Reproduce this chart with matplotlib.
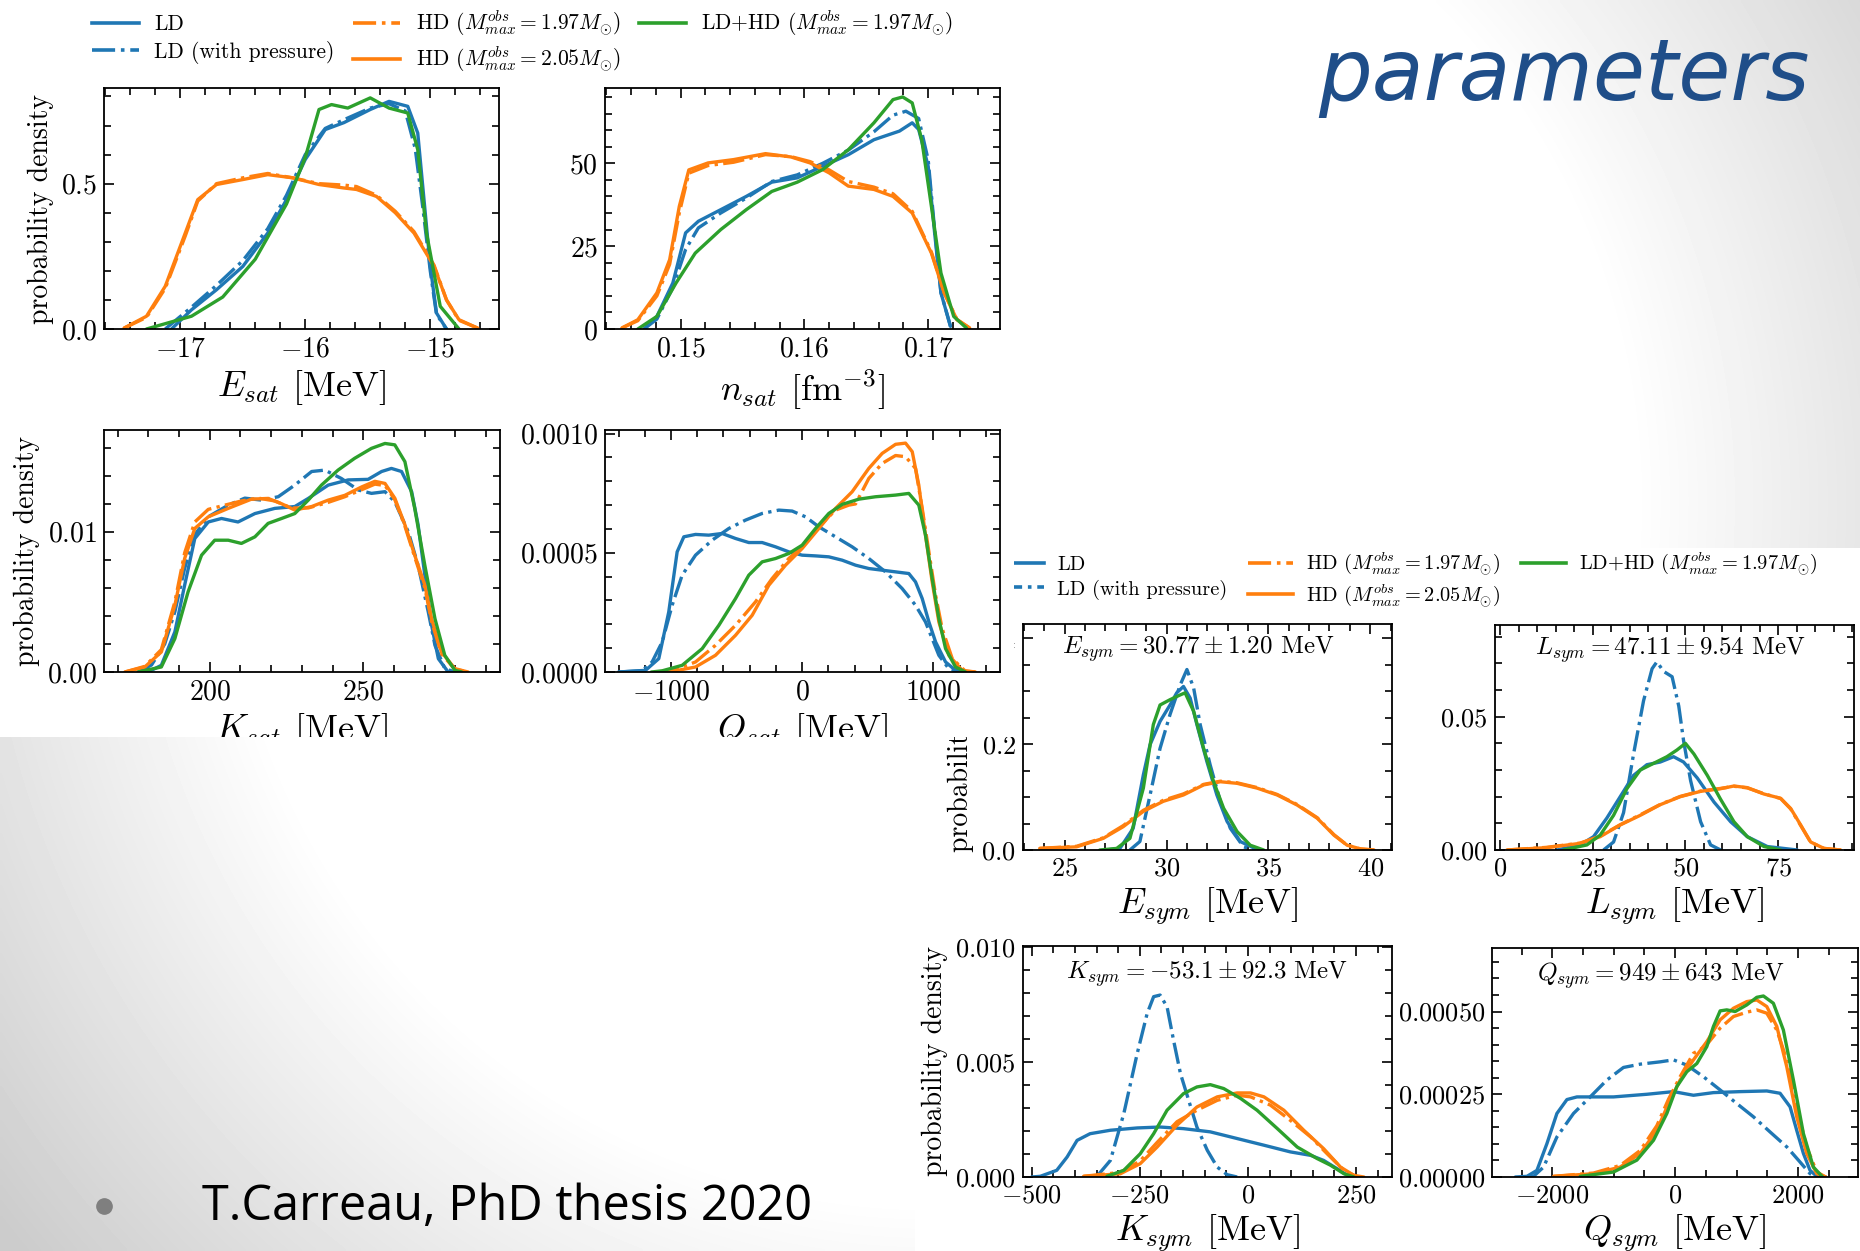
import numpy as np
import matplotlib.pyplot as plt
from matplotlib.ticker import MultipleLocator, AutoMinorLocator
from matplotlib.patches import Rectangle
from matplotlib.lines import Line2D
from matplotlib.transforms import Bbox, TransformedBbox

plt.rcParams['font.family'] = 'cmr10'
plt.rcParams['mathtext.fontset'] = 'cm'
plt.rcParams['axes.formatter.use_mathtext'] = True
plt.rcParams['axes.unicode_minus'] = True

# ---------------- saturation parameters ----------------
# E_sat [MeV] vs probability density
esat_ld_x = [-17.07, -16.91, -16.71, -16.5, -16.3, -16.15, -16.0, -15.84, -15.69, -15.48, -15.33, -15.18, -15.10, -15.05, -15.0, -14.95, -14.87]
esat_ld_y = [0.0, 0.066, 0.135, 0.215, 0.33, 0.445, 0.583, 0.686, 0.71, 0.755, 0.783, 0.766, 0.674, 0.445, 0.216, 0.055, 0.0]
esat_ldp_x = [-17.12, -16.91, -16.71, -16.5, -16.3, -16.15, -16.0, -15.84, -15.69, -15.48, -15.33, -15.2, -15.12, -15.06, -15.0, -14.95, -14.87]
esat_ldp_y = [0.0, 0.075, 0.15, 0.235, 0.345, 0.46, 0.6, 0.69, 0.72, 0.76, 0.775, 0.75, 0.62, 0.42, 0.2, 0.05, 0.0]
esat_hd197_x = [-17.45, -17.27, -17.12, -16.96, -16.86, -16.71, -16.5, -16.3, -16.1, -15.89, -15.69, -15.59, -15.43, -15.28, -15.13, -14.97, -14.87, -14.77, -14.62]
esat_hd197_y = [0.003, 0.04, 0.14, 0.32, 0.44, 0.50, 0.52, 0.535, 0.52, 0.50, 0.495, 0.49, 0.46, 0.405, 0.335, 0.22, 0.10, 0.03, 0.003]
esat_hd205_x = [-17.45, -17.27, -17.12, -16.96, -16.86, -16.71, -16.5, -16.3, -16.1, -15.89, -15.69, -15.59, -15.43, -15.28, -15.13, -14.97, -14.87, -14.77, -14.62]
esat_hd205_y = [0.003, 0.044, 0.147, 0.33, 0.445, 0.497, 0.514, 0.531, 0.52, 0.497, 0.485, 0.48, 0.456, 0.40, 0.33, 0.216, 0.10, 0.032, 0.003]
esat_ldhd_x = [-17.27, -16.91, -16.66, -16.4, -16.15, -16.0, -15.89, -15.79, -15.66, -15.48, -15.33, -15.18, -15.10, -15.03, -14.92, -14.77]
esat_ldhd_y = [0.0, 0.044, 0.11, 0.24, 0.43, 0.59, 0.755, 0.772, 0.76, 0.795, 0.76, 0.743, 0.617, 0.33, 0.078, 0.0]

# n_sat [fm^-3]
nsat_ld_x = [0.14706, 0.14809, 0.14938, 0.15041, 0.15144, 0.15325, 0.15531, 0.15737, 0.15943, 0.16149, 0.16356, 0.16562, 0.16768, 0.16871, 0.16923, 0.17, 0.17052, 0.17103, 0.1718]
nsat_ld_y = [0.0, 3.8, 13.9, 29.0, 32.5, 36.0, 40.0, 44.3, 45.6, 49.1, 52.6, 57.1, 59.7, 62.2, 60.2, 49.1, 29.0, 10.9, 0.8]
nsat_ldp_x = [0.14706, 0.14809, 0.14938, 0.15041, 0.15144, 0.15325, 0.15531, 0.15737, 0.15943, 0.16149, 0.16356, 0.16562, 0.16716, 0.1682, 0.16923, 0.17, 0.17052, 0.17103, 0.1718]
nsat_ldp_y = [0.0, 3.0, 12.5, 24.0, 30.5, 35.0, 39.5, 44.5, 46.5, 50.0, 54.0, 59.5, 64.5, 65.7, 63.5, 51.0, 30.0, 11.0, 0.8]
nsat_hd197_x = [0.14526, 0.14655, 0.14809, 0.14912, 0.1499, 0.15067, 0.15222, 0.15428, 0.15686, 0.15892, 0.16046, 0.162, 0.16355, 0.16562, 0.16716, 0.16871, 0.17026, 0.17129, 0.17232, 0.17335]
nsat_hd197_y = [0.3, 2.5, 10.0, 19.5, 35.0, 47.0, 49.3, 50.3, 52.6, 52.0, 50.5, 48.0, 44.5, 42.8, 40.8, 35.5, 23.2, 11.0, 2.9, 0.3]
nsat_hd205_x = [0.14526, 0.14655, 0.14809, 0.14912, 0.1499, 0.15067, 0.15222, 0.15428, 0.15686, 0.15892, 0.16046, 0.162, 0.16355, 0.16562, 0.16716, 0.16871, 0.17026, 0.17129, 0.17232, 0.17335]
nsat_hd205_y = [0.3, 2.8, 10.9, 20.9, 37.0, 48.0, 50.1, 51.1, 52.9, 51.9, 50.1, 47.1, 43.1, 42.1, 40.0, 35.0, 22.9, 10.9, 2.8, 0.3]
nsat_ldhd_x = [0.14655, 0.14809, 0.14964, 0.15119, 0.15325, 0.15531, 0.15737, 0.15943, 0.16149, 0.16356, 0.16562, 0.16716, 0.16794, 0.16871, 0.16948, 0.17026, 0.17103, 0.17206, 0.17309]
nsat_ldhd_y = [0.0, 3.8, 13.9, 22.9, 30.0, 36.0, 41.5, 44.3, 48.1, 54.1, 62.2, 69.2, 70.0, 68.2, 57.1, 37.0, 16.9, 3.8, 0.3]

# K_sat [MeV], densities in units of 1e-3
ksat_scale = 1e-3
ksat_ld_x = [179.9, 184.2, 188.6, 191.8, 195.1, 199.5, 203.8, 209.2, 214.7, 221.2, 227.7, 232.1, 238.6, 245.1, 251.6, 256.0, 259.2, 262.5, 265.8, 267.9, 270.1, 272.3, 274.5, 277.7]
ksat_ld_y = [0.0, 0.48, 2.86, 6.2, 9.52, 10.7, 10.95, 10.7, 11.3, 11.67, 11.8, 12.38, 13.33, 13.7, 13.74, 14.3, 14.52, 14.3, 12.86, 10.5, 6.9, 3.33, 0.95, 0.0]
ksat_ldp_x = [176.6, 181.0, 185.3, 188.6, 191.8, 195.1, 199.5, 206.0, 211.4, 216.8, 222.3, 227.7, 233.2, 237.5, 242.9, 248.4, 252.7, 257.1, 260.3, 264.7, 267.9, 271.2, 273.4, 276.6, 279.9]
ksat_ldp_y = [0.0, 0.5, 2.0, 4.3, 7.4, 9.8, 11.07, 11.9, 12.4, 12.26, 12.5, 13.33, 14.3, 14.4, 13.8, 12.98, 12.74, 12.86, 12.14, 10.0, 7.6, 4.3, 1.9, 0.24, 0.0]
ksat_hd197_x = [172.3, 178.8, 184.2, 188.6, 191.8, 195.1, 199.5, 204.9, 210.3, 215.8, 221.2, 226.6, 232.1, 238.6, 244.0, 249.5, 253.8, 257.1, 260.3, 263.6, 266.8, 270.1, 272.3, 275.5, 279.9, 284.2]
ksat_hd197_y = [0.0, 0.4, 1.6, 5.0, 8.5, 10.7, 11.6, 11.9, 12.2, 12.4, 12.2, 11.7, 11.7, 12.1, 12.5, 13.0, 13.4, 13.3, 12.3, 10.4, 8.2, 6.0, 3.6, 1.3, 0.2, 0.0]
ksat_hd205_x = [172.3, 178.8, 184.2, 188.6, 191.8, 195.1, 199.5, 206.0, 213.6, 219.0, 223.4, 227.7, 233.2, 238.6, 244.0, 249.5, 253.8, 257.1, 260.3, 263.6, 266.8, 270.1, 272.3, 275.5, 279.9, 284.2]
ksat_hd205_y = [0.0, 0.36, 1.43, 4.76, 8.1, 10.24, 11.07, 11.67, 12.33, 12.38, 12.0, 11.55, 11.8, 12.26, 12.6, 13.2, 13.6, 13.45, 12.4, 10.5, 8.33, 6.2, 3.8, 1.43, 0.24, 0.0]
ksat_ldhd_x = [176.6, 184.2, 188.6, 192.9, 197.3, 201.6, 206.0, 210.3, 214.7, 219.0, 223.4, 227.7, 232.1, 236.4, 241.8, 247.2, 252.7, 257.1, 260.3, 263.6, 266.8, 270.1, 273.4, 276.6, 279.9, 282.1]
ksat_ldhd_y = [0.0, 0.36, 2.38, 5.71, 8.33, 9.4, 9.4, 9.17, 9.64, 10.6, 10.95, 11.3, 12.26, 13.33, 14.4, 15.24, 15.95, 16.3, 16.2, 15.0, 11.67, 7.6, 3.8, 1.19, 0.12, 0.0]

# Q_sat [MeV], densities in units of 1e-4
qsat_scale = 1e-4
qsat_ld_x = [-1400, -1194, -1093, -1017, -953, -902, -813, -712, -610, -508, -407, -305, -203, -102, 0, 102, 203, 305, 407, 508, 610, 712, 813, 864, 915, 966, 1017, 1093, 1169, 1250]
qsat_ld_y = [0.0, 0.07, 0.56, 2.52, 5.04, 5.67, 5.77, 5.74, 5.81, 5.6, 5.43, 5.43, 5.25, 5.04, 4.9, 4.87, 4.83, 4.69, 4.48, 4.34, 4.27, 4.2, 4.13, 3.78, 3.08, 2.1, 1.26, 0.42, 0.07, 0.0]
qsat_ldp_x = [-1400, -1220, -1144, -1067, -991, -915, -813, -686, -559, -432, -305, -178, -76, 25, 127, 254, 381, 508, 635, 762, 864, 940, 991, 1042, 1118, 1194]
qsat_ldp_y = [0.0, 0.05, 0.42, 1.26, 2.8, 4.06, 4.9, 5.53, 6.02, 6.37, 6.65, 6.79, 6.75, 6.51, 6.09, 5.67, 5.25, 4.76, 4.2, 3.5, 2.8, 2.1, 1.4, 0.7, 0.14, 0.0]
qsat_hd197_x = [-1100, -966, -813, -661, -508, -356, -229, -102, 0, 127, 254, 356, 407, 508, 610, 712, 788, 864, 915, 966, 1017, 1067, 1144, 1245, 1320]
qsat_hd197_y = [0.0, 0.1, 0.42, 1.12, 1.96, 2.94, 3.92, 4.76, 5.25, 6.09, 6.79, 7.0, 7.05, 8.12, 8.75, 9.08, 9.03, 8.54, 6.86, 5.04, 3.22, 1.82, 0.56, 0.03, 0.0]
qsat_hd205_x = [-1100, -966, -813, -661, -508, -381, -254, -127, 0, 127, 254, 381, 508, 610, 712, 788, 839, 889, 940, 991, 1042, 1118, 1220, 1320]
qsat_hd205_y = [0.0, 0.05, 0.21, 0.7, 1.54, 2.38, 3.64, 4.48, 5.18, 6.02, 6.86, 7.56, 8.54, 9.17, 9.55, 9.6, 9.24, 7.84, 5.74, 3.78, 2.1, 0.7, 0.07, 0.0]
qsat_ldhd_x = [-1150, -1067, -915, -762, -635, -508, -407, -305, -203, -102, 0, 102, 203, 305, 432, 559, 712, 813, 889, 940, 991, 1042, 1093, 1169, 1245]
qsat_ldhd_y = [0.0, 0.05, 0.28, 0.98, 1.96, 3.08, 4.06, 4.62, 4.76, 4.97, 5.32, 6.02, 6.65, 7.03, 7.25, 7.35, 7.42, 7.49, 7.0, 5.74, 3.92, 2.24, 0.98, 0.21, 0.0]

# ---------------- symmetry parameters ----------------
# E_sym [MeV]
esym_ld_x = [27.0, 27.71, 28.36, 28.86, 29.19, 29.68, 30.17, 30.5, 30.83, 31.16, 31.49, 31.98, 32.47, 32.97, 33.62, 34.44]
esym_ld_y = [0.0, 0.003, 0.041, 0.142, 0.199, 0.243, 0.274, 0.297, 0.309, 0.287, 0.237, 0.167, 0.104, 0.054, 0.016, 0.001]
esym_ldp_x = [28.2, 28.69, 29.19, 29.68, 30.17, 30.67, 31.0, 31.33, 31.65, 32.14, 32.64, 33.13, 33.78, 34.3]
esym_ldp_y = [0.0, 0.016, 0.104, 0.192, 0.256, 0.312, 0.341, 0.306, 0.237, 0.161, 0.092, 0.041, 0.006, 0.0]
esym_hd197_x = [23.77, 25.58, 26.89, 27.87, 28.86, 29.84, 30.83, 31.82, 32.64, 33.46, 34.44, 35.43, 36.41, 37.4, 38.22, 38.87, 39.53, 40.19]
esym_hd197_y = [0.003, 0.007, 0.023, 0.046, 0.075, 0.094, 0.106, 0.124, 0.130, 0.127, 0.118, 0.105, 0.086, 0.061, 0.029, 0.009, 0.002, 0.0]
esym_hd205_x = [23.77, 25.58, 26.89, 27.87, 28.86, 29.84, 30.83, 31.82, 32.64, 33.46, 34.44, 35.43, 36.41, 37.4, 38.22, 38.87, 39.53, 40.19]
esym_hd205_y = [0.003, 0.006, 0.022, 0.044, 0.073, 0.092, 0.104, 0.123, 0.129, 0.126, 0.117, 0.104, 0.085, 0.06, 0.028, 0.009, 0.002, 0.0]
esym_ldhd_x = [26.72, 27.55, 28.2, 28.86, 29.35, 29.68, 30.17, 30.67, 30.91, 31.33, 31.82, 32.31, 32.8, 33.46, 34.11, 34.77]
esym_ldhd_y = [0.0, 0.003, 0.022, 0.117, 0.237, 0.274, 0.284, 0.293, 0.297, 0.262, 0.192, 0.129, 0.079, 0.035, 0.009, 0.0]

# L_sym [MeV]
lsym_ld_x = [15.3, 21.6, 25.2, 28.8, 32.4, 36.0, 39.6, 43.2, 46.8, 49.5, 53.2, 57.7, 62.2, 66.7, 72.1, 80.2]
lsym_ld_y = [0.0, 0.0019, 0.005, 0.012, 0.02, 0.028, 0.032, 0.033, 0.035, 0.033, 0.027, 0.018, 0.0106, 0.005, 0.0013, 0.0]
lsym_ldp_x = [27.9, 30.6, 33.3, 36.0, 38.7, 41.0, 42.3, 44.1, 46.4, 48.2, 49.5, 51.4, 54.1, 56.8, 59.5]
lsym_ldp_y = [0.0, 0.003, 0.014, 0.036, 0.056, 0.068, 0.0706, 0.067, 0.065, 0.054, 0.041, 0.026, 0.0106, 0.0019, 0.0]
lsym_hd197_x = [1.8, 12.6, 21.6, 27.0, 32.4, 37.8, 43.2, 48.6, 54.1, 59.5, 63.1, 66.7, 71.2, 75.7, 78.4, 81.1, 83.8, 87.4, 91.9]
lsym_hd197_y = [0.0, 0.001, 0.0026, 0.0052, 0.0095, 0.0132, 0.0171, 0.0201, 0.0221, 0.0231, 0.0239, 0.0233, 0.0211, 0.0193, 0.0154, 0.0092, 0.0029, 0.0006, 0.0]
lsym_hd205_x = [1.8, 12.6, 21.6, 27.0, 32.4, 37.8, 43.2, 48.6, 54.1, 59.5, 63.1, 66.7, 71.2, 75.7, 78.4, 81.1, 83.8, 87.4, 91.9]
lsym_hd205_y = [0.0, 0.0009, 0.0025, 0.005, 0.0094, 0.013, 0.017, 0.02, 0.022, 0.023, 0.024, 0.0234, 0.021, 0.0194, 0.0156, 0.0094, 0.003, 0.0006, 0.0]
lsym_ldhd_x = [17.1, 23.4, 27.0, 30.6, 34.2, 37.8, 41.4, 45.0, 47.7, 50.0, 52.3, 55.9, 59.5, 63.1, 66.7, 71.2, 75.7]
lsym_ldhd_y = [0.0, 0.0019, 0.0056, 0.013, 0.023, 0.03, 0.0325, 0.035, 0.0375, 0.04, 0.036, 0.028, 0.019, 0.0106, 0.005, 0.0013, 0.0]

# K_sym [MeV], densities in units of 1e-3
ksym_scale = 1e-3
ksym_ld_x = [-500, -480, -442, -418, -395, -365, -318, -256, -203, -149, -87, -25, 37, 98, 145, 175, 206, 230, 253]
ksym_ld_y = [0.0, 0.03, 0.29, 0.87, 1.59, 1.88, 2.03, 2.13, 2.17, 2.1, 1.96, 1.67, 1.38, 1.09, 0.94, 0.72, 0.36, 0.07, 0.0]
ksym_ldp_x = [-349, -318, -287, -256, -233, -218, -203, -187, -172, -156, -137, -118, -94, -71, -48, -25]
ksym_ldp_y = [0.03, 0.72, 2.75, 5.36, 7.1, 7.83, 7.9, 7.39, 5.94, 4.49, 3.33, 2.17, 1.16, 0.43, 0.1, 0.0]
ksym_hd197_x = [-380, -295, -249, -210, -164, -118, -71, -25, 6, 52, 98, 145, 183, 222, 253]
ksym_hd197_y = [0.03, 0.2, 0.7, 1.5, 2.4, 2.9, 3.33, 3.55, 3.48, 3.12, 2.46, 1.74, 1.01, 0.29, 0.0]
ksym_hd205_x = [-380, -295, -249, -210, -164, -118, -71, -25, 6, 37, 83, 129, 175, 214, 245, 268]
ksym_hd205_y = [0.03, 0.14, 0.58, 1.3, 2.25, 3.04, 3.48, 3.65, 3.65, 3.48, 2.9, 2.03, 1.23, 0.43, 0.07, 0.0]
ksym_ldhd_x = [-326, -287, -249, -218, -187, -149, -118, -87, -56, -17, 21, 68, 114, 160, 191, 222, 245]
ksym_ldhd_y = [0.03, 0.29, 1.01, 1.88, 2.9, 3.62, 3.91, 4.01, 3.84, 3.41, 2.9, 2.1, 1.3, 0.8, 0.51, 0.14, 0.0]

# Q_sym [MeV], densities in units of 1e-4
qsym_scale = 1e-4
qsym_ld_x = [-2600, -2411, -2249, -2086, -1924, -1761, -1598, -1003, -460, -27, 298, 623, 1057, 1491, 1707, 1870, 1978, 2087, 2195, 2304, 2450]
qsym_ld_y = [0.0, 0.02, 0.2, 1.01, 1.92, 2.34, 2.42, 2.42, 2.5, 2.58, 2.47, 2.55, 2.58, 2.6, 2.53, 2.12, 1.41, 0.71, 0.2, 0.02, 0.0]
qsym_ldp_x = [-2450, -2304, -2141, -1924, -1654, -1382, -1111, -841, -569, -244, -27, 190, 460, 732, 1003, 1273, 1545, 1816, 2033, 2195, 2304]
qsym_ldp_y = [0.0, 0.02, 0.3, 1.21, 1.92, 2.42, 2.93, 3.31, 3.41, 3.48, 3.54, 3.38, 3.03, 2.63, 2.22, 1.82, 1.36, 0.91, 0.45, 0.1, 0.0]
qsym_hd197_x = [-1978, -1328, -894, -569, -298, -108, 81, 298, 400, 515, 732, 949, 1165, 1328, 1491, 1654, 1816, 1978, 2141, 2304, 2450]
qsym_hd197_y = [0.02, 0.12, 0.35, 0.8, 1.55, 2.35, 3.03, 3.74, 3.84, 4.0, 4.5, 4.85, 4.98, 5.05, 4.95, 4.44, 3.54, 2.1, 0.9, 0.15, 0.0]
qsym_hd205_x = [-1978, -1328, -894, -569, -298, -108, 81, 298, 515, 732, 949, 1165, 1328, 1491, 1654, 1816, 1978, 2141, 2304, 2450]
qsym_hd205_y = [0.02, 0.1, 0.3, 0.71, 1.41, 2.22, 2.93, 3.54, 4.09, 4.75, 5.1, 5.3, 5.35, 5.15, 4.55, 3.33, 1.82, 0.71, 0.1, 0.0]
qsym_ldhd_x = [-1545, -1003, -623, -352, -135, 27, 190, 353, 515, 623, 732, 840, 976, 1165, 1328, 1436, 1598, 1761, 1924, 2087, 2249, 2400]
qsym_ldhd_y = [0.02, 0.15, 0.51, 1.11, 1.92, 2.73, 3.18, 3.43, 3.94, 4.55, 5.02, 5.05, 5.0, 5.2, 5.43, 5.47, 5.25, 4.44, 2.93, 1.31, 0.3, 0.0]

series_labels = ['LD', 'LD (with pressure)',
                 r'HD ($M^{obs}_{max} = 1.97M_{\odot}$)',
                 r'HD ($M^{obs}_{max} = 2.05M_{\odot}$)',
                 r'LD+HD ($M^{obs}_{max} = 1.97M_{\odot}$)']
series_styles = [('#1f77b4', '-'), ('#1f77b4', '-.'), ('#ff7f0e', '-.'),
                 ('#ff7f0e', '-'), ('#2ca02c', '-')]

W, H = 1860, 1251
fig = plt.figure(figsize=(W / 100, H / 100), dpi=100)


def px_axes(x0, y0, x1, y1, **kw):
    # axes placed by pixel box (origin top-left)
    return fig.add_axes([x0 / W, 1 - y1 / H, (x1 - x0) / W, (y1 - y0) / H], **kw)


# slide background: soft grey vignette
bg = fig.add_axes([0, 0, 1, 1], zorder=-10)
yy, xx = np.mgrid[0:H:4, 0:W:4]
dist = np.hypot(xx - 930, yy - 500)
shade = np.clip(1 - 0.15 * (dist - 700) / 356, 0.8, 1.0)
bg.imshow(shade, cmap='gray', vmin=0, vmax=1, extent=[0, W, H, 0],
          aspect='auto', interpolation='bilinear')
bg.axis('off')

# white canvases of the two pasted figures
fig.add_artist(Rectangle((915 / W, 0), 1 - 915 / W, 1 - 548 / H, transform=fig.transFigure,
                         facecolor='white', edgecolor='none', zorder=-5))
fig.add_artist(Rectangle((0, 1 - 737 / H), 1014 / W, 737 / H, transform=fig.transFigure,
                         facecolor='white', edgecolor='none', zorder=1))


def draw_panel(ax, curves, scale, xlim, ylim, xmaj, ymaj, xlabel, labelsize, ylabel=None):
    for (x, y), (c, ls) in zip(curves, series_styles):
        ax.plot(x, np.asarray(y) * scale, color=c, ls=ls, lw=2.4,
                solid_joinstyle='round', solid_capstyle='round')
    ax.set_xlim(*xlim)
    ax.set_ylim(*ylim)
    ax.xaxis.set_major_locator(MultipleLocator(xmaj))
    ax.yaxis.set_major_locator(MultipleLocator(ymaj))
    ax.xaxis.set_minor_locator(AutoMinorLocator())
    ax.yaxis.set_minor_locator(AutoMinorLocator())
    ax.tick_params(which='both', direction='in', top=True, right=True,
                   width=1.2, labelsize=labelsize, pad=5)
    ax.tick_params(which='major', length=7)
    ax.tick_params(which='minor', length=5)
    for s in ax.spines.values():
        s.set_linewidth(1.3)
    ax.set_xlabel(xlabel, fontsize=26, labelpad=4)
    if ylabel:
        ax.set_ylabel(ylabel, fontsize=20, labelpad=5)


ax_esat = px_axes(104, 88, 499, 329, zorder=2)
draw_panel(ax_esat, [(esat_ld_x, esat_ld_y), (esat_ldp_x, esat_ldp_y), (esat_hd197_x, esat_hd197_y),
                     (esat_hd205_x, esat_hd205_y), (esat_ldhd_x, esat_ldhd_y)],
           1.0, (-17.61, -14.45), (0, 0.829), 1, 0.5, r'$E_{sat}$ [MeV]', 20, 'probability density')

ax_nsat = px_axes(605, 88, 1000, 329, zorder=2)
draw_panel(ax_nsat, [(nsat_ld_x, nsat_ld_y), (nsat_ldp_x, nsat_ldp_y), (nsat_hd197_x, nsat_hd197_y),
                     (nsat_hd205_x, nsat_hd205_y), (nsat_ldhd_x, nsat_ldhd_y)],
           1.0, (0.1439, 0.1758), (0, 72.7), 0.01, 25, r'$n_{sat}$ [fm$^{-3}$]', 20)

ax_ksat = px_axes(104, 430, 500, 672, zorder=2)
draw_panel(ax_ksat, [(ksat_ld_x, ksat_ld_y), (ksat_ldp_x, ksat_ldp_y), (ksat_hd197_x, ksat_hd197_y),
                     (ksat_hd205_x, ksat_hd205_y), (ksat_ldhd_x, ksat_ldhd_y)],
           ksat_scale, (165.5, 294.6), (0, 0.01726), 50, 0.01, r'$K_{sat}$ [MeV]', 20, 'probability density')

ax_qsat = px_axes(605, 430, 1000, 672, zorder=2)
draw_panel(ax_qsat, [(qsat_ld_x, qsat_ld_y), (qsat_ldp_x, qsat_ldp_y), (qsat_hd197_x, qsat_hd197_y),
                     (qsat_hd205_x, qsat_hd205_y), (qsat_ldhd_x, qsat_ldhd_y)],
           qsat_scale, (-1503, 1508), (0, 0.001015), 1000, 0.0005, r'$Q_{sat}$ [MeV]', 20)

# the lower axis titles of the saturation figure are cut by its frame
cut = TransformedBbox(Bbox([[0, 1 - 737 / H], [1014 / W, 1]]), fig.transFigure)
for ax in (ax_ksat, ax_qsat):
    ax.xaxis.label.set_clip_box(cut)
    ax.xaxis.label.set_clip_on(True)

ax_esym = px_axes(1023, 624, 1392, 850)
draw_panel(ax_esym, [(esym_ld_x, esym_ld_y), (esym_ldp_x, esym_ldp_y), (esym_hd197_x, esym_hd197_y),
                     (esym_hd205_x, esym_hd205_y), (esym_ldhd_x, esym_ldhd_y)],
           1.0, (22.95, 41.07), (0, 0.427), 5, 0.2, r'$E_{sym}$ [MeV]', 19, 'probability density')
ax_esym.text(0.475, 0.89, r'$E_{sym} = 30.77 \pm 1.20$ MeV', transform=ax_esym.transAxes,
             ha='center', va='center', fontsize=18)
# its y title runs under the saturation figure; only the lower part shows
below = TransformedBbox(Bbox([[915 / W, 0], [1, 1 - 737 / H]]), fig.transFigure)
ax_esym.yaxis.label.set_clip_box(below)
ax_esym.yaxis.label.set_clip_on(True)

ax_lsym = px_axes(1495, 625, 1854, 850)
draw_panel(ax_lsym, [(lsym_ld_x, lsym_ld_y), (lsym_ldp_x, lsym_ldp_y), (lsym_hd197_x, lsym_hd197_y),
                     (lsym_hd205_x, lsym_hd205_y), (lsym_ldhd_x, lsym_ldhd_y)],
           1.0, (-1.4, 95.5), (0, 0.0844), 25, 0.05, r'$L_{sym}$ [MeV]', 19)
ax_lsym.text(0.49, 0.89, r'$L_{sym} = 47.11 \pm 9.54$ MeV', transform=ax_lsym.transAxes,
             ha='center', va='center', fontsize=18)

ax_ksym = px_axes(1023, 946, 1392, 1177)
draw_panel(ax_ksym, [(ksym_ld_x, ksym_ld_y), (ksym_ldp_x, ksym_ldp_y), (ksym_hd197_x, ksym_hd197_y),
                     (ksym_hd205_x, ksym_hd205_y), (ksym_ldhd_x, ksym_ldhd_y)],
           ksym_scale, (-520, 333), (0, 0.01003), 250, 0.005, r'$K_{sym}$ [MeV]', 19, 'probability density')
ax_ksym.text(0.5, 0.88, r'$K_{sym} = -53.1 \pm 92.3$ MeV', transform=ax_ksym.transAxes,
             ha='center', va='center', fontsize=18)

ax_qsym = px_axes(1492, 948, 1858, 1177)
draw_panel(ax_qsym, [(qsym_ld_x, qsym_ld_y), (qsym_ldp_x, qsym_ldp_y), (qsym_hd197_x, qsym_hd197_y),
                     (qsym_hd205_x, qsym_hd205_y), (qsym_ldhd_x, qsym_ldhd_y)],
           qsym_scale, (-2980, 2975), (0, 0.000692), 2000, 0.00025, r'$Q_{sym}$ [MeV]', 19)
ax_qsym.text(0.46, 0.88, r'$Q_{sym} = 949 \pm 643$ MeV', transform=ax_qsym.transAxes,
             ha='center', va='center', fontsize=18)

# legends
handles = [Line2D([], [], color=c, ls=ls, lw=2.6) for c, ls in series_styles]
leg_top = fig.legend(handles, series_labels, loc='upper left', bbox_to_anchor=(92 / W, 1 - 9 / H),
                     ncol=3, frameon=False, fontsize=15.5, handlelength=2.2, handletextpad=0.7,
                     columnspacing=0.85, labelspacing=0.3, borderpad=0, borderaxespad=0)
leg_top.set_zorder(3)
leg_bot = fig.legend(handles, series_labels, loc='upper left', bbox_to_anchor=(999 / W, 1 - 551 / H),
                     ncol=3, frameon=False, fontsize=14.7, handlelength=2.2, handletextpad=0.65,
                     columnspacing=1.0, labelspacing=0.28, borderpad=0, borderaxespad=0)
leg_bot.set_zorder(0.5)

# slide texts
fig.text(1318 / W, 1 - 100 / H, 'parameters', fontsize=61, color='#1f4e89',
         family='DejaVu Sans', style='italic', ha='left', va='baseline')
fig.add_artist(Line2D([104 / W], [1 - 1206 / H], marker='o', markersize=11, color='#7f7f7f',
                      transform=fig.transFigure))
fig.text(202 / W, 1 - 1207 / H, 'T.Carreau, PhD thesis 2020', fontsize=35, color='black',
         family='Open Sans', ha='left', va='center')

fig.savefig('out.png', dpi=100)
